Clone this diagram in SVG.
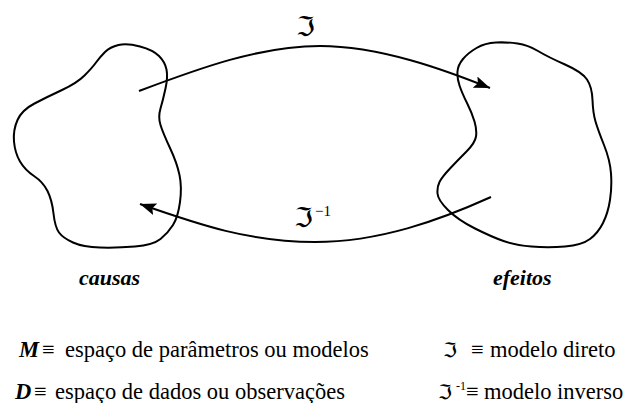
<svg xmlns="http://www.w3.org/2000/svg" width="635" height="403" viewBox="0 0 635 403">
<style>
.blob{fill:none;stroke:#000;stroke-width:2}
.con{fill:none;stroke:#000;stroke-width:2}
</style>
<defs>
<marker id="ah" markerUnits="userSpaceOnUse" markerWidth="18" markerHeight="12" refX="16" refY="6" orient="auto">
<path d="M0,0 L16,6 L0,12 L3,6 Z" fill="#000"/>
</marker>
</defs>
<rect width="635" height="403" fill="#fff"/>
<g id="causas">
<path class="blob" d="M140,46.5 Q153,50 159,56 Q165,62 166.5,69.5 Q168,77 165.5,88.5 Q163,100 160.5,108.5 Q158,117 160.5,125 Q163,133 170,148 Q177,163 179.5,175 Q182,187 180,202 Q178,217 173,225 Q168,233 160.5,239 Q153,245 135,246.5 Q117,248 100,247.5 Q83,247 73,242.5 Q63,238 59,232.5 Q55,227 53.5,213.5 Q52,200 47.5,191 Q43,182 34,176 Q25,170 20,161.5 Q15,153 14,141.5 Q13,130 17.5,120 Q22,110 34.5,103.5 Q47,97 62,90 Q77,83 84.5,75.5 Q92,68 96,62.5 Q100,57 105,52 Q110,47 118.5,45 Q127,43 140,46.5 Z"/>
<text x="79" y="285" font-family="Liberation Serif, Times New Roman, serif" font-size="22" font-weight="bold" font-style="italic">causas</text>
</g>
<g id="efeitos">
<path class="blob" d="M517.5,43.5 Q528,45 538,51 Q548,57 565,64.5 Q582,72 587,79.5 Q592,87 592.5,100 Q593,113 595.5,121.5 Q598,130 604,145 Q610,160 611,173.5 Q612,187 610,200 Q608,213 603,223 Q598,233 590,239 Q582,245 565,246.5 Q548,248 531.5,246.5 Q515,245 503.5,241 Q492,237 475,228.5 Q458,220 448,210 Q438,200 437.5,193.5 Q437,187 439.5,182 Q442,177 450,168.5 Q458,160 466.5,151.5 Q475,143 476,136.5 Q477,130 474.5,121.5 Q472,113 467,103 Q462,93 459.5,85.5 Q457,78 457.5,71.5 Q458,65 463,59 Q468,53 476.5,48 Q485,43 496,42.5 Q507,42 517.5,43.5 Z"/>
<text x="493" y="285" font-family="Liberation Serif, Times New Roman, serif" font-size="22" font-weight="bold" font-style="italic">efeitos</text>
</g>
<g id="connectors">
<path class="con" d="M139,91 C200,68 260,46 320,46 C380,46 445,70 490,88" marker-end="url(#ah)"/>
<path class="con" d="M491,197 C440,220 380,242 315,242 C250,242 200,225 140,204" marker-end="url(#ah)"/>
<text x="296" y="36" font-family="DejaVu Serif, DejaVu Sans, serif" font-size="27">ℑ</text>
<text x="294" y="227" font-family="DejaVu Serif, DejaVu Sans, serif" font-size="27">ℑ</text>
<text x="315" y="216" font-family="Liberation Serif, serif" font-size="15">−1</text>
</g>
<g id="legend" font-family="Liberation Serif, Times New Roman, serif" font-size="22.5">
<text x="19" y="357" font-weight="bold" font-style="italic">M</text>
<text x="42" y="357">≡</text>
<text x="65" y="357">espaço de parâmetros ou modelos</text>
<text x="15" y="399" font-weight="bold" font-style="italic">D</text>
<text x="34" y="399">≡</text>
<text x="55" y="399">espaço de dados ou observações</text>
<text x="443" y="357" font-family="DejaVu Serif, DejaVu Sans, serif" font-size="20">ℑ</text>
<text x="471" y="357">≡</text>
<text x="490" y="357">modelo direto</text>
<text x="438" y="399" font-family="DejaVu Serif, DejaVu Sans, serif" font-size="20">ℑ</text>
<text x="456" y="390" font-size="12">-1</text>
<text x="466" y="399">≡</text>
<text x="484" y="399">modelo inverso</text>
</g>
</svg>
